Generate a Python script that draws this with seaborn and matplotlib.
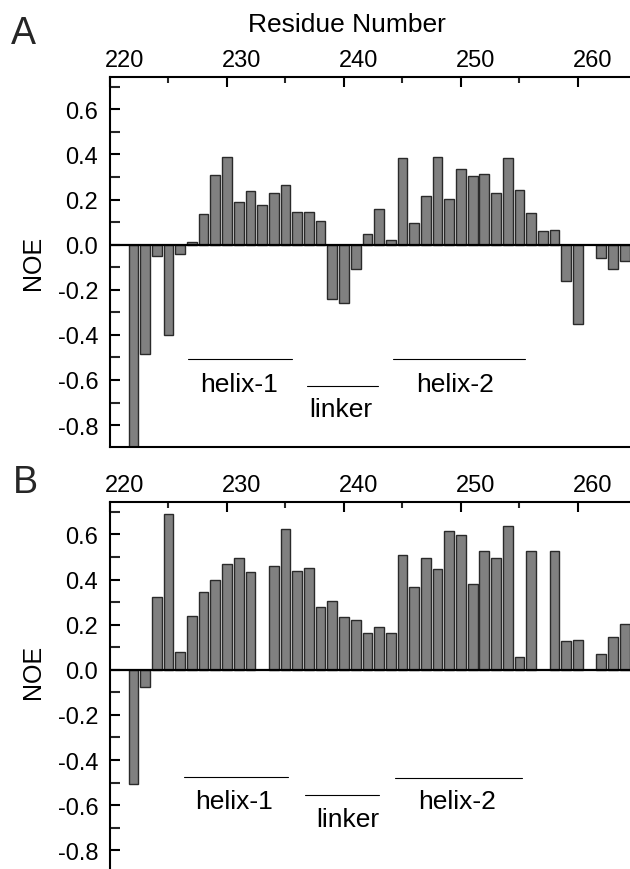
import numpy as np
import pandas as pd
import matplotlib
matplotlib.use("Agg")
import matplotlib.pyplot as plt
from matplotlib.ticker import MultipleLocator, FormatStrFormatter
from matplotlib.transforms import ScaledTranslation
import seaborn as sns

sns.set_theme(style="white")
plt.rcParams['font.family'] = ['Liberation Sans', 'DejaVu Sans']
plt.rcParams['axes.unicode_minus'] = False

# ---- data ----
residues_a = [222, 223, 224, 225, 226, 227, 228, 229, 230, 231, 232, 233, 234, 235,
              236, 237, 238, 239, 240, 241, 242, 243, 244, 245, 246, 247, 248, 249,
              250, 251, 252, 253, 254, 255, 256, 257, 258, 259, 260, 262, 263, 264]
noe_a = [-0.95, -0.486, -0.049, -0.400, -0.040, 0.013, 0.134, 0.310, 0.389, 0.191,
         0.236, 0.174, 0.230, 0.263, 0.146, 0.143, 0.105, -0.242, -0.259, -0.108,
         0.046, 0.157, 0.021, 0.383, 0.095, 0.216, 0.390, 0.204, 0.335, 0.303,
         0.312, 0.228, 0.386, 0.244, 0.139, 0.062, 0.066, -0.161, -0.354,
         -0.061, -0.108, -0.072]

residues_b = [222, 223, 224, 225, 226, 227, 228, 229, 230, 231, 232, 234, 235, 236,
              237, 238, 239, 240, 241, 242, 243, 244, 245, 246, 247, 248, 249, 250,
              251, 252, 253, 254, 255, 256, 258, 259, 260, 262, 263, 264]
noe_b = [-0.505, -0.077, 0.321, 0.689, 0.077, 0.239, 0.343, 0.396, 0.470, 0.496,
         0.433, 0.462, 0.624, 0.439, 0.449, 0.279, 0.304, 0.236, 0.222, 0.164,
         0.191, 0.164, 0.510, 0.366, 0.496, 0.446, 0.615, 0.597, 0.381, 0.527,
         0.496, 0.637, 0.058, 0.527, 0.527, 0.127, 0.133, 0.069, 0.146, 0.204]

region_names = ["helix-1", "linker", "helix-2"]
region_start_a = [226.7, 236.8, 244.2]
region_end_a = [235.6, 242.9, 255.5]
region_start_b = [226.3, 236.7, 244.4]
region_end_b = [235.2, 243.0, 255.2]

xticks = [220, 230, 240, 250, 260]

# ---- figure ----
fig = plt.figure(figsize=(6.3, 8.7), dpi=100)
ax_a = fig.add_axes([110 / 630, 1 - 448 / 870, 1 - 110 / 630, (448 - 78) / 870])
ax_b = fig.add_axes([110 / 630, 0.0, 1 - 110 / 630, (870 - 502.7) / 870])

bar_color = "#808080"
edge_color = "#2a2a2a"
label_shift = ScaledTranslation(15 / 100, 0, fig.dpi_scale_trans)

panels = [
    (ax_a, residues_a, noe_a, (-0.897, 0.743), True,
     region_start_a, region_end_a,
     [-0.505, -0.625, -0.505], [231.05, 239.7, 249.5], [-0.647, -0.758, -0.647],
     0.501),
    (ax_b, residues_b, noe_b, (-0.883, 0.745), False,
     region_start_b, region_end_b,
     [-0.476, -0.555, -0.478], [230.6, 240.3, 249.65], [-0.613, -0.691, -0.613],
     0.538),
]

for (ax, res, vals, ylim, show_bottom, rs, re_, line_y, text_x, text_y,
     ylab_y) in panels:
    df = pd.DataFrame({"residue": res, "noe": vals})
    sns.barplot(data=df, x="residue", y="noe", native_scale=True, width=0.83,
                color=bar_color, saturation=1, edgecolor=edge_color,
                linewidth=1.0, ax=ax, zorder=2)
    ax.set_xlim(220, 264.45)
    ax.set_ylim(*ylim)
    ax.axhline(0, color="black", lw=1.6, zorder=3)

    ax.xaxis.tick_top()
    ax.set_xticks(xticks)
    ax.xaxis.set_minor_locator(MultipleLocator(5))
    ax.yaxis.set_major_locator(MultipleLocator(0.2))
    ax.yaxis.set_minor_locator(MultipleLocator(0.1))
    ax.yaxis.set_major_formatter(FormatStrFormatter("%.1f"))
    ax.tick_params(axis="x", which="major", direction="in", length=7.5, width=1.5,
                   labelsize=17, pad=4, top=True, bottom=False, colors="black")
    ax.tick_params(axis="x", which="minor", direction="in", length=4, width=1.5,
                   top=True, bottom=False)
    ax.tick_params(axis="y", which="major", direction="in", length=7, width=1.5,
                   labelsize=17, pad=8.4, left=True, colors="black")
    ax.tick_params(axis="y", which="minor", direction="in", length=7, width=1.5,
                   left=True)
    for tick in ax.xaxis.get_major_ticks():
        tick.label2.set_transform(tick.label2.get_transform() + label_shift)

    for s in ["top", "left"]:
        ax.spines[s].set_visible(True)
        ax.spines[s].set_linewidth(1.5)
        ax.spines[s].set_color("black")
    ax.spines["right"].set_visible(False)
    ax.spines["bottom"].set_visible(show_bottom)
    ax.spines["bottom"].set_linewidth(1.5)
    ax.spines["bottom"].set_color("black")

    ax.set_xlabel("")
    ax.set_ylabel("NOE", fontsize=18, color="black", va="center", ha="center")
    ax.yaxis.set_label_coords(33.5 / 630, 0, transform=fig.transFigure)
    ax.yaxis.label.set_position((33.5 / 630, 0))
    ax.yaxis.set_label_coords(-(110 - 33.5) / 520, ylab_y)

    for name, x0, x1, ly, tx, ty in zip(region_names, rs, re_, line_y, text_x, text_y):
        ax.plot([x0, x1], [ly, ly], color="black", lw=0.8, zorder=3)
        ax.text(tx, ty, name, ha="center", va="baseline", fontsize=19,
                color="black")

fig.text(347 / 630, 1 - 32.3 / 870, "Residue Number", fontsize=19,
         ha="center", va="baseline", color="black")

fig.text(23.7 / 630, 1 - 44.3 / 870, "A", fontsize=27, ha="center", va="baseline")
fig.text(25.3 / 630, 1 - 492.7 / 870, "B", fontsize=27, ha="center", va="baseline")

fig.savefig("out.png", dpi=100)
